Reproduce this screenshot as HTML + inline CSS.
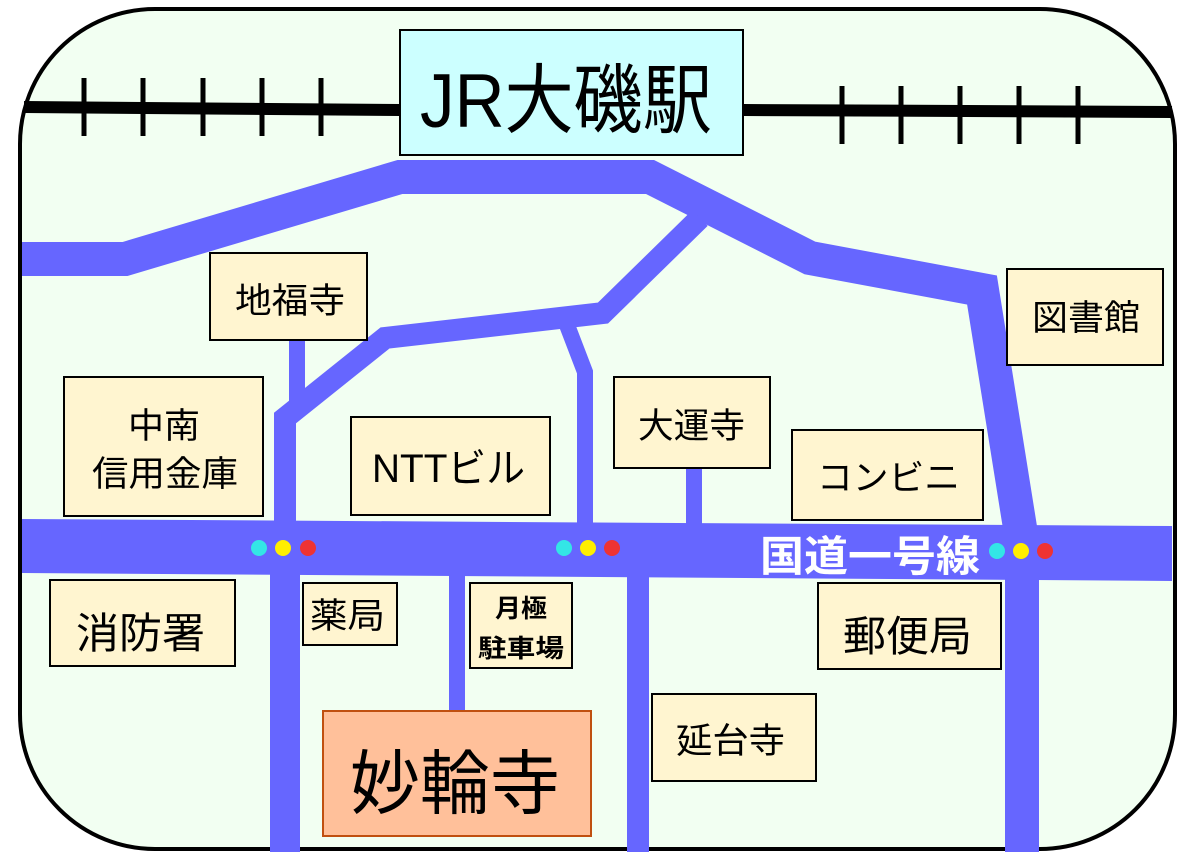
<!DOCTYPE html>
<html><head><meta charset="utf-8"><style>
html,body{margin:0;padding:0;background:#fff}
svg{display:block}
text{font-family:"Liberation Sans","Noto Sans CJK JP",sans-serif}
</style></head><body>
<svg width="1183" height="856" viewBox="0 0 1183 856" xmlns="http://www.w3.org/2000/svg">
<rect x="20" y="9" width="1155" height="840" rx="135" ry="135" fill="#f2fff2" stroke="#000" stroke-width="4"/>
<path d="M24 107 L400 110 M743 110 L1172 112" stroke="#000" stroke-width="12" fill="none"/>
<g stroke="#000" stroke-width="5">
<path d="M84 78V136M143 78V136M203 78V136M262 78V136M321 78V136"/>
<path d="M842 86V144M901 86V144M960 86V144M1019 86V144M1078 86V144"/>
</g>
<g stroke="#6666ff" fill="none" stroke-linejoin="miter">
<path d="M22 259 L125 259 L400 177 L650 177 L810 258 L982 290 L1022 540" stroke-width="34"/>
<path d="M1022 540 L1022 852" stroke-width="34"/>
<path d="M700 218 L603 313 L385 338 L285 418 L285 540" stroke-width="22"/>
<path d="M567 325 L585 372 L585 540" stroke-width="16"/>
<path d="M297 340 L297 405" stroke-width="16"/>
<path d="M694 466 L694 530" stroke-width="16"/>
<path d="M285 560 L285 852" stroke-width="30"/>
<path d="M457 560 L457 712" stroke-width="16"/>
<path d="M638 560 L638 852" stroke-width="22"/>
</g>
<polygon points="22,519 1172,526 1172,581 22,573" fill="#6666ff"/>
<g>
<circle cx="259" cy="548" r="8" fill="#33e6e6"/><circle cx="283" cy="548" r="8" fill="#ffee00"/><circle cx="308" cy="548" r="8" fill="#ee3333"/>
<circle cx="564" cy="548" r="8" fill="#33e6e6"/><circle cx="588" cy="548" r="8" fill="#ffee00"/><circle cx="612" cy="548" r="8" fill="#ee3333"/>
<circle cx="997" cy="551" r="8" fill="#33e6e6"/><circle cx="1021" cy="551" r="8" fill="#ffee00"/><circle cx="1045" cy="551" r="8" fill="#ee3333"/>
</g>
<text x="760" y="571" font-size="42" font-weight="bold" fill="#fff" textLength="220" lengthAdjust="spacingAndGlyphs">国道一号線</text>
<g stroke="#000" stroke-width="2" fill="#fff5d0">
<rect x="400" y="30" width="343" height="125" fill="#ccffff"/>
<rect x="210" y="253" width="157" height="87"/>
<rect x="64" y="377" width="199" height="139"/>
<rect x="351" y="417" width="199" height="98"/>
<rect x="614" y="377" width="156" height="91"/>
<rect x="1007" y="269" width="156" height="96"/>
<rect x="792" y="430" width="191" height="90"/>
<rect x="50" y="580" width="185" height="86"/>
<rect x="303" y="583" width="94" height="62"/>
<rect x="470" y="583" width="102" height="85"/>
<rect x="818" y="583" width="183" height="86"/>
<rect x="652" y="694" width="164" height="87"/>
<rect x="323" y="711" width="268" height="125" fill="#ffc09a" stroke="#c05010"/>
</g>
<g fill="#000">
<text x="420" y="127" font-size="76" textLength="292" lengthAdjust="spacingAndGlyphs">JR大磯駅</text>
<text x="235" y="313" font-size="35" textLength="110" lengthAdjust="spacingAndGlyphs">地福寺</text>
<text x="128" y="438" font-size="35" textLength="72" lengthAdjust="spacingAndGlyphs">中南</text>
<text x="92" y="486" font-size="35" textLength="146" lengthAdjust="spacingAndGlyphs">信用金庫</text>
<text x="372" y="482" font-size="40" textLength="153" lengthAdjust="spacingAndGlyphs">NTTビル</text>
<text x="638" y="438" font-size="35" textLength="107" lengthAdjust="spacingAndGlyphs">大運寺</text>
<text x="1032" y="330" font-size="35" textLength="108" lengthAdjust="spacingAndGlyphs">図書館</text>
<text x="817" y="490" font-size="35" textLength="143" lengthAdjust="spacingAndGlyphs">コンビニ</text>
<text x="76" y="648" font-size="42" textLength="129" lengthAdjust="spacingAndGlyphs">消防署</text>
<text x="310" y="628" font-size="35" textLength="75" lengthAdjust="spacingAndGlyphs">薬局</text>
<text x="495" y="617" font-size="25" font-weight="bold" textLength="52" lengthAdjust="spacingAndGlyphs">月極</text>
<text x="478" y="657" font-size="25" font-weight="bold" textLength="86" lengthAdjust="spacingAndGlyphs">駐車場</text>
<text x="843" y="651" font-size="42" textLength="129" lengthAdjust="spacingAndGlyphs">郵便局</text>
<text x="676" y="753" font-size="35" textLength="109" lengthAdjust="spacingAndGlyphs">延台寺</text>
<text x="350" y="808" font-size="70" textLength="210" lengthAdjust="spacingAndGlyphs">妙輪寺</text>
</g>
</svg>
</body></html>
